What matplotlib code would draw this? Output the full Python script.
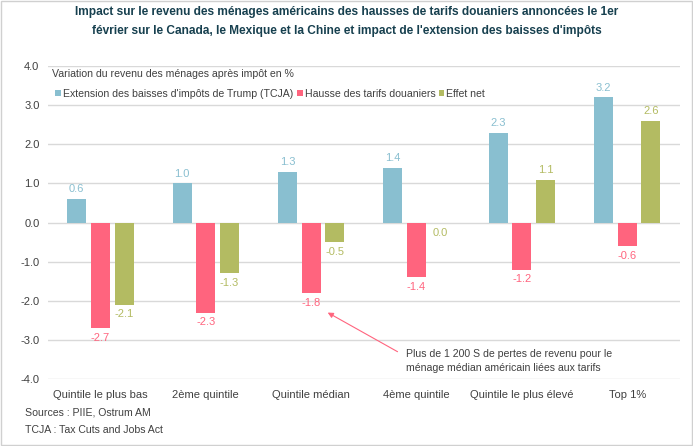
import matplotlib.pyplot as plt
import numpy as np
from matplotlib.patches import Rectangle

# ----- data -----
categories = ["Quintile le plus bas", "2ème quintile", "Quintile médian",
              "4ème quintile", "Quintile le plus élevé", "Top 1%"]
tcja = [0.6, 1.0, 1.3, 1.4, 2.3, 3.2]
tarifs = [-2.7, -2.3, -1.8, -1.4, -1.2, -0.6]
net = [-2.1, -1.3, -0.5, -0.02, 1.1, 2.6]
series_names = ["Extension des baisses d'impôts de Trump (TCJA)",
                "Hausse des tarifs douaniers", "Effet net"]
colors = ["#89BFD0", "#FF647E", "#B3BB62"]
yticks = [-4, -3, -2, -1, 0, 1, 2, 3, 4]

plt.rcParams['font.family'] = ['Liberation Sans', 'DejaVu Sans']
txt = "#404040"
fs = 7.6

fig = plt.figure(figsize=(6.93, 4.46), dpi=100)
fig.patches.append(Rectangle((0.002, 0.002), 0.996, 0.996, transform=fig.transFigure,
                             fill=False, edgecolor="#D0D0D0", lw=1))
ax = fig.add_axes([0.069, 0.150, 0.912, 0.702])

x = np.arange(len(categories))
w = 0.18
step = 0.225
for i, (vals, c, name) in enumerate(zip([tcja, tarifs, net], colors, series_names)):
    pos = x + (i - 1) * step
    ax.bar(pos, vals, width=w, color=c, label=name, zorder=3)
    for p, v in zip(pos, vals):
        lab = f"{v:.1f}"
        if lab == "-0.0":
            lab = "0.0"
        if v > 0:
            ax.text(p, v + 0.12, lab, ha="center", va="bottom", color=c, fontsize=fs + 0.4)
        else:
            ax.text(p, v - 0.12, lab, ha="center", va="top", color=c, fontsize=fs + 0.4)

ax.set_ylim(-4, 4)
ax.set_xlim(-0.5, len(categories) - 0.5)
ax.set_yticks(yticks)
ax.set_yticklabels([f"{t:.1f}" for t in yticks], fontsize=fs + 0.4, color=txt)
ax.set_xticks(x)
ax.set_xticklabels(categories, fontsize=fs + 0.4, color=txt)
ax.tick_params(length=0, axis="both")
ax.tick_params(axis="y", pad=6)
ax.tick_params(axis="x", pad=8)
ax.grid(axis="y", color="#D9D9D9", lw=1, zorder=0)
for s in ax.spines.values():
    s.set_visible(False)

leg = ax.legend(loc="center left", bbox_to_anchor=(0.012, 0.912), ncol=3, frameon=False,
                fontsize=fs, handlelength=0.55, handleheight=0.55, handletextpad=0.2,
                columnspacing=0.3, borderaxespad=0, borderpad=0)
for t in leg.get_texts():
    t.set_color(txt)

fig.text(0.075, 0.834, "Variation du revenu des ménages après impôt en %", fontsize=fs,
         color=txt, va="center")

fig.text(0.5, 0.951, "Impact sur le revenu des ménages américains des hausses de tarifs douaniers annoncées le 1er\n"
         "février sur le Canada, le Mexique et la Chine et impact de l'extension des baisses d'impôts",
         ha="center", va="center", fontsize=8.6, fontweight="bold", color="#17404F", linespacing=1.75)

# arrow and note for the median household
ax.annotate("", xy=(2.157, -2.30), xytext=(2.82, -3.30),
            arrowprops=dict(arrowstyle="-|>", color="#FF647E", lw=0.8, mutation_scale=8,
                            shrinkA=0, shrinkB=0))
ax.text(2.9, -3.53, "Plus de 1 200 S de pertes de revenu pour le\nménage médian américain liées aux tarifs",
        fontsize=fs, color=txt, va="center", ha="left", linespacing=1.5)

fig.text(0.036, 0.074, "Sources : PIIE, Ostrum AM", fontsize=fs, color=txt, va="center")
fig.text(0.036, 0.036, "TCJA : Tax Cuts and Jobs Act", fontsize=fs, color=txt, va="center")

fig.savefig("out.png", dpi=100)
